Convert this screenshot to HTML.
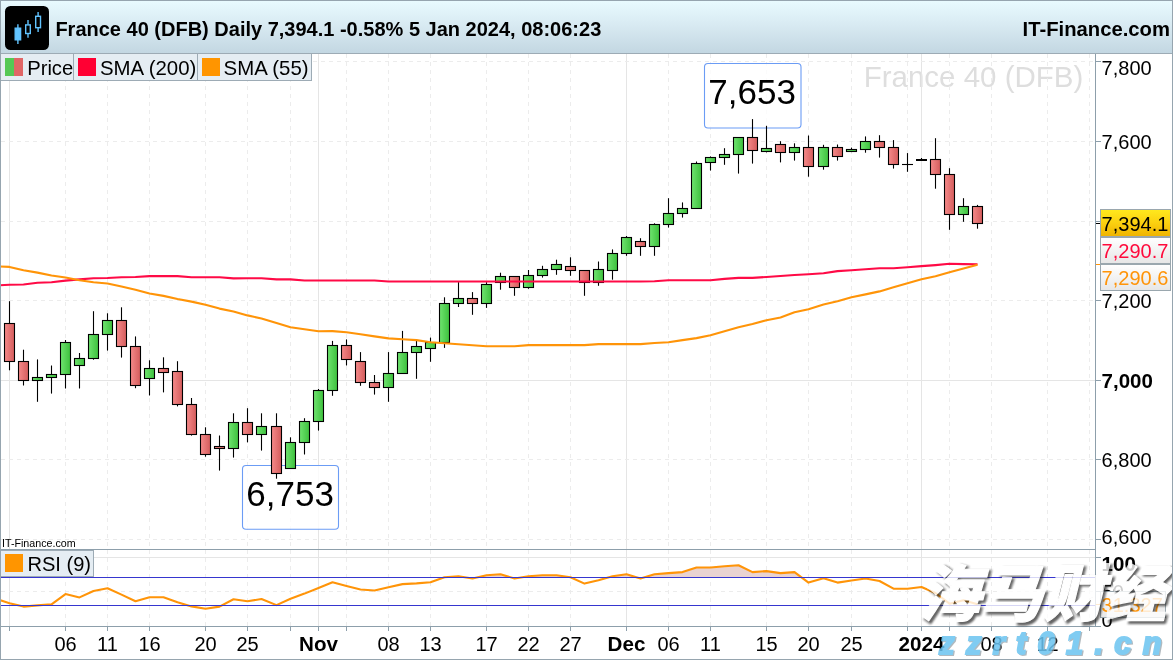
<!DOCTYPE html>
<html lang="en"><head><meta charset="utf-8"><title>France 40 (DFB) Daily</title>
<style>
html,body{margin:0;padding:0;background:#fff;}
body{width:1173px;height:660px;overflow:hidden;}
svg{display:block;font-family:"Liberation Sans","Noto Sans CJK SC",sans-serif;}
text{white-space:pre;}
</style></head><body>
<svg width="1173" height="660" viewBox="0 0 1173 660">
<defs>
<linearGradient id="hdr" x1="0" y1="0" x2="0" y2="1"><stop offset="0" stop-color="#e9fbff"/><stop offset="0.5" stop-color="#d7e9f1"/><stop offset="1" stop-color="#c3d7e2"/></linearGradient>
<linearGradient id="gG" x1="0" y1="0" x2="1" y2="0"><stop offset="0" stop-color="#6fe46f"/><stop offset="1" stop-color="#3dc03d"/></linearGradient>
<linearGradient id="gR" x1="0" y1="0" x2="1" y2="0"><stop offset="0" stop-color="#f58a8a"/><stop offset="1" stop-color="#d45c5c"/></linearGradient>
<linearGradient id="yl" x1="0" y1="0" x2="0" y2="1"><stop offset="0" stop-color="#ffe91e"/><stop offset="0.5" stop-color="#fbd010"/><stop offset="1" stop-color="#efb300"/></linearGradient>
<linearGradient id="wl" x1="0" y1="0" x2="0" y2="1"><stop offset="0" stop-color="#ffffff"/><stop offset="1" stop-color="#e6e6e6"/></linearGradient>
<clipPath id="cpRsi"><rect x="0" y="549.5" width="1095.5" height="28.0"/></clipPath>
<filter id="bl" x="-5%" y="-20%" width="110%" height="140%"><feGaussianBlur stdDeviation="0.9"/></filter>
<clipPath id="cpAll"><rect x="0" y="0" width="1173" height="660"/></clipPath>
</defs>
<rect x="0" y="0" width="1173" height="660" fill="#ffffff"/>

<text x="863.7" y="87.1" font-size="29.5" fill="#dedede">France 40 (DFB)</text>
<g shape-rendering="crispEdges" fill="none" stroke-width="1">
<line x1="65.5" y1="54" x2="65.5" y2="626.4" stroke="#ececec" stroke-dasharray="4 4"/>
<line x1="107.5" y1="54" x2="107.5" y2="626.4" stroke="#ececec" stroke-dasharray="4 4"/>
<line x1="149.5" y1="54" x2="149.5" y2="626.4" stroke="#ececec" stroke-dasharray="4 4"/>
<line x1="205.5" y1="54" x2="205.5" y2="626.4" stroke="#ececec" stroke-dasharray="4 4"/>
<line x1="247.5" y1="54" x2="247.5" y2="626.4" stroke="#ececec" stroke-dasharray="4 4"/>
<line x1="290.5" y1="54" x2="290.5" y2="626.4" stroke="#ececec" stroke-dasharray="4 4"/>
<line x1="346.5" y1="54" x2="346.5" y2="626.4" stroke="#ececec" stroke-dasharray="4 4"/>
<line x1="388.5" y1="54" x2="388.5" y2="626.4" stroke="#ececec" stroke-dasharray="4 4"/>
<line x1="430.5" y1="54" x2="430.5" y2="626.4" stroke="#ececec" stroke-dasharray="4 4"/>
<line x1="486.5" y1="54" x2="486.5" y2="626.4" stroke="#ececec" stroke-dasharray="4 4"/>
<line x1="528.5" y1="54" x2="528.5" y2="626.4" stroke="#ececec" stroke-dasharray="4 4"/>
<line x1="570.5" y1="54" x2="570.5" y2="626.4" stroke="#ececec" stroke-dasharray="4 4"/>
<line x1="668.5" y1="54" x2="668.5" y2="626.4" stroke="#ececec" stroke-dasharray="4 4"/>
<line x1="710.5" y1="54" x2="710.5" y2="626.4" stroke="#ececec" stroke-dasharray="4 4"/>
<line x1="766.5" y1="54" x2="766.5" y2="626.4" stroke="#ececec" stroke-dasharray="4 4"/>
<line x1="808.5" y1="54" x2="808.5" y2="626.4" stroke="#ececec" stroke-dasharray="4 4"/>
<line x1="851.5" y1="54" x2="851.5" y2="626.4" stroke="#ececec" stroke-dasharray="4 4"/>
<line x1="907.5" y1="54" x2="907.5" y2="626.4" stroke="#ececec" stroke-dasharray="4 4"/>
<line x1="949.5" y1="54" x2="949.5" y2="626.4" stroke="#ececec" stroke-dasharray="4 4"/>
<line x1="991.5" y1="54" x2="991.5" y2="626.4" stroke="#ececec" stroke-dasharray="4 4"/>
<line x1="1047.5" y1="54" x2="1047.5" y2="626.4" stroke="#ececec" stroke-dasharray="4 4"/>
<line x1="1089.5" y1="54" x2="1089.5" y2="626.4" stroke="#ececec" stroke-dasharray="4 4"/>
<line x1="9.5" y1="54" x2="9.5" y2="626.4" stroke="#e5e5e5"/>
<line x1="318.5" y1="54" x2="318.5" y2="626.4" stroke="#e5e5e5"/>
<line x1="626.5" y1="54" x2="626.5" y2="626.4" stroke="#e5e5e5"/>
<line x1="921.5" y1="54" x2="921.5" y2="626.4" stroke="#e5e5e5"/>
<line x1="1" y1="61.5" x2="1095.5" y2="61.5" stroke="#ececec" stroke-dasharray="4 4"/>
<line x1="1" y1="141.5" x2="1095.5" y2="141.5" stroke="#ececec" stroke-dasharray="4 4"/>
<line x1="1" y1="221.5" x2="1095.5" y2="221.5" stroke="#ececec" stroke-dasharray="4 4"/>
<line x1="1" y1="300.5" x2="1095.5" y2="300.5" stroke="#ececec" stroke-dasharray="4 4"/>
<line x1="1" y1="380.5" x2="1095.5" y2="380.5" stroke="#e5e5e5"/>
<line x1="1" y1="459.5" x2="1095.5" y2="459.5" stroke="#ececec" stroke-dasharray="4 4"/>
<line x1="1" y1="539.5" x2="1095.5" y2="539.5" stroke="#ececec" stroke-dasharray="4 4"/>
<line x1="1" y1="557.5" x2="1095.5" y2="557.5" stroke="#e5e5e5"/>
<line x1="1" y1="591.5" x2="1095.5" y2="591.5" stroke="#ececec" stroke-dasharray="4 4"/>
</g>
<rect x="704.5" y="63.5" width="96.5" height="64.5" rx="3.5" ry="3.5" fill="#ffffff" fill-opacity="0.8" stroke="#6b9cf5" stroke-width="1.1"/>
<text x="708.3" y="103.6" font-size="35" fill="#000000">7,653</text>
<rect x="242.5" y="465.5" width="96" height="63.7" rx="3.5" ry="3.5" fill="#ffffff" fill-opacity="0.8" stroke="#6b9cf5" stroke-width="1.1"/>
<text x="246.3" y="506" font-size="35" fill="#000000">6,753</text>
<g stroke="#000000" stroke-width="1.1">
<line x1="9.5" y1="301.2" x2="9.5" y2="370.3"/>
<rect x="4.5" y="323.5" width="10" height="38.0" fill="url(#gR)"/>
<line x1="23.5" y1="349.7" x2="23.5" y2="385.5"/>
<rect x="18.5" y="361.5" width="10" height="19.0" fill="url(#gR)"/>
<line x1="37.5" y1="359.4" x2="37.5" y2="401.8"/>
<rect x="32.5" y="377.5" width="10" height="3.0" fill="url(#gG)"/>
<line x1="51.5" y1="365.5" x2="51.5" y2="393.6"/>
<rect x="46.5" y="374.5" width="10" height="3.0" fill="url(#gG)"/>
<line x1="65.5" y1="340.0" x2="65.5" y2="388.5"/>
<rect x="60.5" y="342.5" width="10" height="32.0" fill="url(#gG)"/>
<line x1="79.5" y1="353.0" x2="79.5" y2="388.5"/>
<rect x="74.5" y="358.5" width="10" height="7.0" fill="url(#gG)"/>
<line x1="93.5" y1="311.2" x2="93.5" y2="359.7"/>
<rect x="88.5" y="334.5" width="10" height="24.0" fill="url(#gG)"/>
<line x1="107.5" y1="313.3" x2="107.5" y2="350.6"/>
<rect x="102.5" y="320.5" width="10" height="14.0" fill="url(#gG)"/>
<line x1="121.5" y1="307.3" x2="121.5" y2="357.6"/>
<rect x="116.5" y="320.5" width="10" height="26.0" fill="url(#gR)"/>
<line x1="135.5" y1="336.4" x2="135.5" y2="388.2"/>
<rect x="130.5" y="346.5" width="10" height="39.0" fill="url(#gR)"/>
<line x1="149.5" y1="360.3" x2="149.5" y2="395.5"/>
<rect x="144.5" y="368.5" width="10" height="10.0" fill="url(#gG)"/>
<line x1="163.5" y1="357.3" x2="163.5" y2="392.4"/>
<rect x="158.5" y="368.5" width="10" height="4.0" fill="url(#gR)"/>
<line x1="177.5" y1="361.2" x2="177.5" y2="406.4"/>
<rect x="172.5" y="371.5" width="10" height="33.0" fill="url(#gR)"/>
<line x1="191.5" y1="398.0" x2="191.5" y2="435.6"/>
<rect x="186.5" y="404.5" width="10" height="30.0" fill="url(#gR)"/>
<line x1="205.5" y1="427.3" x2="205.5" y2="456.7"/>
<rect x="200.5" y="434.5" width="10" height="20.0" fill="url(#gR)"/>
<line x1="219.5" y1="435.5" x2="219.5" y2="470.6"/>
<rect x="214.5" y="446.5" width="10" height="2.0" fill="url(#gR)"/>
<line x1="233.5" y1="413.3" x2="233.5" y2="457.6"/>
<rect x="228.5" y="422.5" width="10" height="26.0" fill="url(#gG)"/>
<line x1="247.5" y1="408.2" x2="247.5" y2="442.4"/>
<rect x="242.5" y="422.5" width="10" height="12.0" fill="url(#gR)"/>
<line x1="261.5" y1="413.3" x2="261.5" y2="450.6"/>
<rect x="256.5" y="426.5" width="10" height="8.0" fill="url(#gG)"/>
<line x1="276.5" y1="413.3" x2="276.5" y2="478.7"/>
<rect x="271.5" y="426.5" width="10" height="47.0" fill="url(#gR)"/>
<line x1="290.5" y1="437.3" x2="290.5" y2="468.5"/>
<rect x="285.5" y="442.5" width="10" height="26.0" fill="url(#gG)"/>
<line x1="304.5" y1="418.2" x2="304.5" y2="454.5"/>
<rect x="299.5" y="421.5" width="10" height="21.0" fill="url(#gG)"/>
<line x1="318.5" y1="389.0" x2="318.5" y2="430.6"/>
<rect x="313.5" y="390.5" width="10" height="31.0" fill="url(#gG)"/>
<line x1="332.5" y1="340.9" x2="332.5" y2="395.8"/>
<rect x="327.5" y="345.5" width="10" height="45.0" fill="url(#gG)"/>
<line x1="346.5" y1="339.4" x2="346.5" y2="365.5"/>
<rect x="341.5" y="345.5" width="10" height="14.0" fill="url(#gR)"/>
<line x1="360.5" y1="352.1" x2="360.5" y2="385.8"/>
<rect x="355.5" y="361.5" width="10" height="21.0" fill="url(#gR)"/>
<line x1="374.5" y1="375.0" x2="374.5" y2="394.6"/>
<rect x="369.5" y="382.5" width="10" height="5.0" fill="url(#gR)"/>
<line x1="388.5" y1="352.1" x2="388.5" y2="401.8"/>
<rect x="383.5" y="373.5" width="10" height="14.0" fill="url(#gG)"/>
<line x1="402.5" y1="330.9" x2="402.5" y2="373.5"/>
<rect x="397.5" y="352.5" width="10" height="21.0" fill="url(#gG)"/>
<line x1="416.5" y1="339.1" x2="416.5" y2="378.8"/>
<rect x="411.5" y="346.5" width="10" height="6.0" fill="url(#gG)"/>
<line x1="430.5" y1="337.6" x2="430.5" y2="361.8"/>
<rect x="425.5" y="342.5" width="10" height="6.0" fill="url(#gG)"/>
<line x1="444.5" y1="297.3" x2="444.5" y2="347.9"/>
<rect x="439.5" y="303.5" width="10" height="39.0" fill="url(#gG)"/>
<line x1="458.5" y1="282.1" x2="458.5" y2="307.0"/>
<rect x="453.5" y="298.5" width="10" height="5.0" fill="url(#gG)"/>
<line x1="472.5" y1="292.1" x2="472.5" y2="314.8"/>
<rect x="467.5" y="298.5" width="10" height="5.0" fill="url(#gR)"/>
<line x1="486.5" y1="282.1" x2="486.5" y2="307.9"/>
<rect x="481.5" y="284.5" width="10" height="19.0" fill="url(#gG)"/>
<line x1="500.5" y1="272.7" x2="500.5" y2="289.7"/>
<rect x="495.5" y="276.5" width="10" height="6.0" fill="url(#gG)"/>
<line x1="514.5" y1="276.4" x2="514.5" y2="295.8"/>
<rect x="509.5" y="276.5" width="10" height="11.0" fill="url(#gR)"/>
<line x1="528.5" y1="270.0" x2="528.5" y2="288.8"/>
<rect x="523.5" y="275.5" width="10" height="12.0" fill="url(#gG)"/>
<line x1="542.5" y1="265.8" x2="542.5" y2="277.6"/>
<rect x="537.5" y="269.5" width="10" height="6.0" fill="url(#gG)"/>
<line x1="556.5" y1="259.7" x2="556.5" y2="274.8"/>
<rect x="551.5" y="264.5" width="10" height="5.0" fill="url(#gG)"/>
<line x1="570.5" y1="257.3" x2="570.5" y2="275.8"/>
<rect x="565.5" y="266.5" width="10" height="4.0" fill="url(#gR)"/>
<line x1="584.5" y1="270.5" x2="584.5" y2="295.8"/>
<rect x="579.5" y="270.5" width="10" height="12.0" fill="url(#gR)"/>
<line x1="598.5" y1="261.5" x2="598.5" y2="285.8"/>
<rect x="593.5" y="269.5" width="10" height="13.0" fill="url(#gG)"/>
<line x1="612.5" y1="249.4" x2="612.5" y2="279.7"/>
<rect x="607.5" y="253.5" width="10" height="17.0" fill="url(#gG)"/>
<line x1="626.5" y1="236.0" x2="626.5" y2="255.8"/>
<rect x="621.5" y="237.5" width="10" height="16.0" fill="url(#gG)"/>
<line x1="640.5" y1="238.2" x2="640.5" y2="255.8"/>
<rect x="635.5" y="241.5" width="10" height="5.0" fill="url(#gR)"/>
<line x1="654.5" y1="223.3" x2="654.5" y2="255.8"/>
<rect x="649.5" y="224.5" width="10" height="22.0" fill="url(#gG)"/>
<line x1="668.5" y1="198.2" x2="668.5" y2="227.6"/>
<rect x="663.5" y="213.5" width="10" height="11.0" fill="url(#gG)"/>
<line x1="682.5" y1="202.4" x2="682.5" y2="217.6"/>
<rect x="677.5" y="208.5" width="10" height="5.0" fill="url(#gG)"/>
<line x1="696.5" y1="161.5" x2="696.5" y2="208.5"/>
<rect x="691.5" y="163.5" width="10" height="45.0" fill="url(#gG)"/>
<line x1="710.5" y1="156.4" x2="710.5" y2="170.6"/>
<rect x="705.5" y="157.5" width="10" height="5.0" fill="url(#gG)"/>
<line x1="724.5" y1="148.2" x2="724.5" y2="164.8"/>
<rect x="719.5" y="154.5" width="10" height="3.0" fill="url(#gG)"/>
<line x1="738.5" y1="137.3" x2="738.5" y2="173.6"/>
<rect x="733.5" y="137.5" width="10" height="17.0" fill="url(#gG)"/>
<line x1="752.5" y1="119.1" x2="752.5" y2="163.6"/>
<rect x="747.5" y="137.5" width="10" height="13.0" fill="url(#gR)"/>
<line x1="766.5" y1="125.8" x2="766.5" y2="152.4"/>
<rect x="761.5" y="148.5" width="10" height="3.0" fill="url(#gG)"/>
<line x1="780.5" y1="141.2" x2="780.5" y2="162.4"/>
<rect x="775.5" y="144.5" width="10" height="8.0" fill="url(#gR)"/>
<line x1="794.5" y1="143.3" x2="794.5" y2="160.6"/>
<rect x="789.5" y="147.5" width="10" height="5.0" fill="url(#gG)"/>
<line x1="808.5" y1="135.5" x2="808.5" y2="176.7"/>
<rect x="803.5" y="147.5" width="10" height="19.0" fill="url(#gR)"/>
<line x1="823.5" y1="144.8" x2="823.5" y2="169.7"/>
<rect x="818.5" y="147.5" width="10" height="19.0" fill="url(#gG)"/>
<line x1="837.5" y1="144.5" x2="837.5" y2="160.6"/>
<rect x="832.5" y="147.5" width="10" height="9.0" fill="url(#gR)"/>
<line x1="851.5" y1="147.6" x2="851.5" y2="152.1"/>
<rect x="846.5" y="149.5" width="10" height="2.0" fill="url(#gG)"/>
<line x1="865.5" y1="136.4" x2="865.5" y2="152.7"/>
<rect x="860.5" y="141.5" width="10" height="8.0" fill="url(#gG)"/>
<line x1="879.5" y1="135.2" x2="879.5" y2="157.6"/>
<rect x="874.5" y="141.5" width="10" height="6.0" fill="url(#gR)"/>
<line x1="893.5" y1="140.1" x2="893.5" y2="168.6"/>
<rect x="888.5" y="147.5" width="10" height="17.0" fill="url(#gR)"/>
<line x1="907.5" y1="153.1" x2="907.5" y2="171.8"/>
<line x1="902.0" y1="164.5" x2="913.0" y2="164.5"/>
<line x1="921.5" y1="158.0" x2="921.5" y2="159.5"/>
<line x1="916.0" y1="160.0" x2="927.0" y2="160.0" stroke-width="2"/>
<line x1="935.5" y1="138.2" x2="935.5" y2="188.7"/>
<rect x="930.5" y="159.5" width="10" height="15.0" fill="url(#gR)"/>
<line x1="949.5" y1="168.2" x2="949.5" y2="229.8"/>
<rect x="944.5" y="174.5" width="10" height="40.0" fill="url(#gR)"/>
<line x1="963.5" y1="198.2" x2="963.5" y2="221.8"/>
<rect x="958.5" y="206.5" width="10" height="8.0" fill="url(#gG)"/>
<line x1="977.5" y1="204.9" x2="977.5" y2="228.7"/>
<rect x="972.5" y="206.5" width="10" height="17.0" fill="url(#gR)"/>
</g>
<polyline points="-2,285.4 9.5,284.8 23.5,284.5 37.5,282.8 51.5,282.3 65.5,280.6 79.5,279.4 93.5,278.2 107.5,278.0 121.5,277.2 135.5,277.0 149.5,276.1 163.5,276.1 177.5,276.1 191.5,277.2 205.5,277.2 219.5,277.2 233.5,278.4 247.5,278.2 261.5,278.2 276.5,279.4 290.5,279.4 304.5,280.5 318.5,280.5 332.5,280.5 346.5,280.5 360.5,280.5 374.5,280.5 388.5,281.5 402.5,281.5 416.5,281.5 430.5,281.5 444.5,281.5 458.5,281.5 472.5,281.5 486.5,281.5 500.5,281.5 514.5,281.5 528.5,281.5 542.5,281.5 556.5,281.5 570.5,281.5 584.5,281.5 598.5,281.5 612.5,281.5 626.5,281.5 640.5,281.5 654.5,281.3 668.5,280.3 682.5,280.3 696.5,280.3 710.5,280.3 724.5,278.9 738.5,277.9 752.5,277.9 766.5,277.0 780.5,276.0 794.5,275.0 808.5,274.2 823.5,273.3 837.5,271.1 851.5,270.2 865.5,269.2 879.5,268.2 893.5,268.2 907.5,267.2 921.5,266.1 935.5,265.1 949.5,263.8 963.5,264.1 977.5,264.3" fill="none" stroke="#ff0a46" stroke-width="2.1" stroke-linejoin="round"/>
<polyline points="-2,266.5 9.5,266.9 23.5,270.3 37.5,272.6 51.5,275.5 65.5,277.5 79.5,280.2 93.5,282.3 107.5,283.5 121.5,286.5 135.5,289.8 149.5,293.5 163.5,295.9 177.5,299.0 191.5,301.6 205.5,304.7 219.5,308.6 233.5,311.5 247.5,315.4 261.5,318.5 276.5,323.1 290.5,327.3 304.5,329.2 318.5,331.3 332.5,331.1 346.5,332.3 360.5,334.3 374.5,336.4 388.5,338.4 402.5,339.3 416.5,340.1 430.5,342.2 444.5,343.2 458.5,344.2 472.5,345.3 486.5,346.3 500.5,346.3 514.5,346.3 528.5,345.1 542.5,345.1 556.5,345.1 570.5,345.1 584.5,345.1 598.5,344.1 612.5,344.1 626.5,344.1 640.5,344.1 654.5,343.0 668.5,342.2 682.5,340.1 696.5,338.1 710.5,335.2 724.5,331.3 738.5,327.3 752.5,324.1 766.5,320.2 780.5,317.5 794.5,312.3 808.5,309.3 823.5,304.5 837.5,301.3 851.5,297.2 865.5,294.4 879.5,291.4 893.5,287.3 907.5,283.2 921.5,279.2 935.5,276.2 949.5,272.3 963.5,268.6 977.5,264.7" fill="none" stroke="#ff9408" stroke-width="2.1" stroke-linejoin="round"/>
<polygon points="-2,599.5 9.5,603.3 23.5,606.6 37.5,605.4 51.5,604.3 65.5,594.1 79.5,597.4 93.5,591.0 107.5,588.2 121.5,594.6 135.5,601.3 149.5,597.2 163.5,597.2 177.5,602.3 191.5,606.4 205.5,608.7 219.5,606.6 233.5,599.2 247.5,601.3 261.5,599.0 276.5,605.1 290.5,598.7 304.5,593.6 318.5,588.0 332.5,582.3 346.5,585.9 360.5,589.5 374.5,590.5 388.5,587.2 402.5,584.1 416.5,583.4 430.5,582.3 444.5,577.2 458.5,576.2 472.5,578.5 486.5,575.2 500.5,574.2 514.5,578.5 528.5,576.2 542.5,575.2 556.5,575.2 570.5,577.2 584.5,583.6 598.5,580.3 612.5,576.2 626.5,574.2 640.5,578.5 654.5,574.2 668.5,573.1 682.5,572.1 696.5,567.5 710.5,567.5 724.5,566.2 738.5,565.2 752.5,572.1 766.5,571.1 780.5,573.1 794.5,572.1 808.5,582.6 823.5,578.2 837.5,582.6 851.5,580.5 865.5,578.5 879.5,581.0 893.5,588.7 907.5,588.7 921.5,587.0 935.5,593.0 949.5,603.7 963.5,600.3 977.5,604.2 977.5,577.5 -2,577.5" fill="#e9d3d1" clip-path="url(#cpRsi)"/>
<polyline points="-2,599.5 9.5,603.3 23.5,606.6 37.5,605.4 51.5,604.3 65.5,594.1 79.5,597.4 93.5,591.0 107.5,588.2 121.5,594.6 135.5,601.3 149.5,597.2 163.5,597.2 177.5,602.3 191.5,606.4 205.5,608.7 219.5,606.6 233.5,599.2 247.5,601.3 261.5,599.0 276.5,605.1 290.5,598.7 304.5,593.6 318.5,588.0 332.5,582.3 346.5,585.9 360.5,589.5 374.5,590.5 388.5,587.2 402.5,584.1 416.5,583.4 430.5,582.3 444.5,577.2 458.5,576.2 472.5,578.5 486.5,575.2 500.5,574.2 514.5,578.5 528.5,576.2 542.5,575.2 556.5,575.2 570.5,577.2 584.5,583.6 598.5,580.3 612.5,576.2 626.5,574.2 640.5,578.5 654.5,574.2 668.5,573.1 682.5,572.1 696.5,567.5 710.5,567.5 724.5,566.2 738.5,565.2 752.5,572.1 766.5,571.1 780.5,573.1 794.5,572.1 808.5,582.6 823.5,578.2 837.5,582.6 851.5,580.5 865.5,578.5 879.5,581.0 893.5,588.7 907.5,588.7 921.5,587.0 935.5,593.0 949.5,603.7 963.5,600.3 977.5,604.2" fill="none" stroke="#ff9408" stroke-width="2.1" stroke-linejoin="round"/>
<line x1="1" y1="577.5" x2="1095.5" y2="577.5" stroke="#3636cf" stroke-width="1" shape-rendering="crispEdges"/>
<line x1="1" y1="605.5" x2="1095.5" y2="605.5" stroke="#3636cf" stroke-width="1" shape-rendering="crispEdges"/>
<g shape-rendering="crispEdges" stroke="#8d9fab" fill="none">
<line x1="0" y1="549.5" x2="1095.5" y2="549.5" stroke-width="1"/>
<line x1="0" y1="626.5" x2="1096.5" y2="626.5" stroke-width="1"/>
<line x1="1095.5" y1="54" x2="1095.5" y2="627" stroke-width="1"/>
</g>
<g shape-rendering="crispEdges" stroke="#8d9fab" stroke-width="1">
<line x1="1095.5" y1="61.5" x2="1100.5" y2="61.5"/>
<line x1="1095.5" y1="141.5" x2="1100.5" y2="141.5"/>
<line x1="1095.5" y1="221.5" x2="1100.5" y2="221.5"/>
<line x1="1095.5" y1="300.5" x2="1100.5" y2="300.5"/>
<line x1="1095.5" y1="380.5" x2="1100.5" y2="380.5"/>
<line x1="1095.5" y1="459.5" x2="1100.5" y2="459.5"/>
<line x1="1095.5" y1="539.5" x2="1100.5" y2="539.5"/>
<line x1="1095.5" y1="557.5" x2="1100.5" y2="557.5"/>
<line x1="1095.5" y1="591.5" x2="1100.5" y2="591.5"/>
<line x1="1095.5" y1="626.5" x2="1100.5" y2="626.5"/>
</g>
<text x="1101.6" y="74.7" font-size="20" fill="#000">7,800</text>
<text x="1101.6" y="148.9" font-size="20" fill="#000">7,600</text>
<text x="1101.6" y="307.9" font-size="20" fill="#000">7,200</text>
<text x="1101.6" y="387.6" font-weight="bold" font-size="20.5" fill="#000">7,000</text>
<text x="1101.6" y="466.9" font-size="20" fill="#000">6,800</text>
<text x="1101.6" y="544" font-size="20" fill="#000">6,600</text>
<text x="1101.6" y="571.3" font-size="20.5" font-weight="bold" fill="#000">100</text>
<text x="1101.6" y="598.8" font-size="20" fill="#000">50</text>
<text x="1101.6" y="626.5" font-size="20" fill="#000">0</text>
<line x1="1095.5" y1="223.5" x2="1100.5" y2="223.5" stroke="#000" stroke-width="1" shape-rendering="crispEdges"/>
<line x1="1095.5" y1="264.5" x2="1100.5" y2="264.5" stroke="#ff9408" stroke-width="1" shape-rendering="crispEdges"/>
<g shape-rendering="crispEdges">
<rect x="1100.5" y="209.5" width="70" height="27" fill="url(#yl)" stroke="#9aa7ae" stroke-width="1"/>
<rect x="1100.5" y="237.5" width="70" height="26" fill="url(#wl)" stroke="#9aa7ae" stroke-width="1"/>
<rect x="1100.5" y="264.5" width="70" height="26" fill="url(#wl)" stroke="#9aa7ae" stroke-width="1"/>
</g>
<text x="1101.6" y="230.9" font-size="20" fill="#000">7,394.1</text>
<text x="1101.6" y="258" font-size="20" fill="#ff0a3c">7,290.7</text>
<text x="1101.6" y="285" font-size="20" fill="#ff9408">7,290.6</text>
<line x1="1095.5" y1="604.5" x2="1100.5" y2="604.5" stroke="#ff9408" stroke-width="1" shape-rendering="crispEdges"/>
<rect x="1100.5" y="591.5" width="65" height="26" fill="url(#wl)" stroke="#9aa7ae" stroke-width="1" shape-rendering="crispEdges"/>
<text x="1101.6" y="612" font-size="20" fill="#ff9408">31.327</text>
<g shape-rendering="crispEdges" stroke="#8d9fab" stroke-width="1">
<line x1="65.5" y1="626" x2="65.5" y2="631"/>
<line x1="107.5" y1="626" x2="107.5" y2="631"/>
<line x1="149.5" y1="626" x2="149.5" y2="631"/>
<line x1="205.5" y1="626" x2="205.5" y2="631"/>
<line x1="247.5" y1="626" x2="247.5" y2="631"/>
<line x1="290.5" y1="626" x2="290.5" y2="631"/>
<line x1="346.5" y1="626" x2="346.5" y2="631"/>
<line x1="388.5" y1="626" x2="388.5" y2="631"/>
<line x1="430.5" y1="626" x2="430.5" y2="631"/>
<line x1="486.5" y1="626" x2="486.5" y2="631"/>
<line x1="528.5" y1="626" x2="528.5" y2="631"/>
<line x1="570.5" y1="626" x2="570.5" y2="631"/>
<line x1="668.5" y1="626" x2="668.5" y2="631"/>
<line x1="710.5" y1="626" x2="710.5" y2="631"/>
<line x1="766.5" y1="626" x2="766.5" y2="631"/>
<line x1="808.5" y1="626" x2="808.5" y2="631"/>
<line x1="851.5" y1="626" x2="851.5" y2="631"/>
<line x1="907.5" y1="626" x2="907.5" y2="631"/>
<line x1="949.5" y1="626" x2="949.5" y2="631"/>
<line x1="991.5" y1="626" x2="991.5" y2="631"/>
<line x1="1047.5" y1="626" x2="1047.5" y2="631"/>
<line x1="1089.5" y1="626" x2="1089.5" y2="631"/>
<line x1="9.5" y1="626" x2="9.5" y2="631"/>
<line x1="318.5" y1="626" x2="318.5" y2="631"/>
<line x1="626.5" y1="626" x2="626.5" y2="631"/>
<line x1="921.5" y1="626" x2="921.5" y2="631"/>
</g>
<g font-size="20" text-anchor="middle" fill="#000">
<text x="65.5" y="650.6">06</text>
<text x="107.5" y="650.6">11</text>
<text x="149.5" y="650.6">16</text>
<text x="205.5" y="650.6">20</text>
<text x="247.5" y="650.6">25</text>
<text x="318.5" y="650.6" font-weight="bold" font-size="20.6">Nov</text>
<text x="388.5" y="650.6">08</text>
<text x="430.5" y="650.6">13</text>
<text x="486.5" y="650.6">17</text>
<text x="528.5" y="650.6">22</text>
<text x="570.5" y="650.6">27</text>
<text x="626.5" y="650.6" font-weight="bold" font-size="20.6">Dec</text>
<text x="668.5" y="650.6">06</text>
<text x="710.5" y="650.6">11</text>
<text x="766.5" y="650.6">15</text>
<text x="808.5" y="650.6">20</text>
<text x="851.5" y="650.6">25</text>
<text x="921.5" y="650.6" font-weight="bold" font-size="20.6">2024</text>
<text x="991.5" y="650.6">08</text>
<text x="1047.5" y="650.6">12</text>
</g>
<text x="2" y="547.3" font-size="10.7" fill="#000">IT-Finance.com</text>
<rect x="0" y="0" width="1173" height="53" fill="url(#hdr)"/>
<rect x="5" y="6" width="44" height="44" rx="5.5" ry="5.5" fill="#000"/>
<g stroke="#62c4ff" stroke-width="1.4" fill="none">
<line x1="17.9" y1="24.3" x2="17.9" y2="44"/><rect x="15.2" y="28.2" width="5.4" height="11.6" fill="#62c4ff"/>
<line x1="28" y1="20" x2="28" y2="24.6"/><line x1="28" y1="33.8" x2="28" y2="37.8"/><rect x="25.7" y="24.9" width="4.6" height="8.6"/>
<line x1="38.1" y1="12" x2="38.1" y2="16"/><line x1="38.1" y1="28" x2="38.1" y2="32"/><rect x="35.7" y="16.3" width="4.8" height="11.4"/>
</g>
<text x="55.4" y="35.7" font-size="20" font-weight="bold" fill="#000">France 40 (DFB) Daily 7,394.1 -0.58% 5 Jan 2024, 08:06:23</text>
<text x="1170" y="35.7" font-size="20.25" font-weight="bold" fill="#000" text-anchor="end">IT-Finance.com</text>
<g shape-rendering="crispEdges">
<rect x="0.5" y="53.5" width="310.5" height="27" fill="#e5edf3" stroke="#9dabb5" stroke-width="1"/>
<line x1="73.5" y1="53.5" x2="73.5" y2="80.5" stroke="#9dabb5"/>
<line x1="197.5" y1="53.5" x2="197.5" y2="80.5" stroke="#9dabb5"/>
<line x1="0" y1="53.5" x2="1173" y2="53.5" stroke="#9dabb5"/>
<rect x="5" y="58" width="9" height="18" fill="#55c855"/><rect x="14" y="58" width="9" height="18" fill="#e06666"/>
<rect x="78" y="58" width="18" height="18" fill="#ff0033"/>
<rect x="202" y="58" width="18" height="18" fill="#ff9500"/>
</g>
<g font-size="20.4" fill="#000"><text x="27.2" y="74.8" font-size="20.2">Price</text><text x="100" y="74.8">SMA (200)</text><text x="223.6" y="74.8">SMA (55)</text></g>
<g shape-rendering="crispEdges">
<rect x="0.5" y="550.5" width="93" height="26" fill="#e5edf3" stroke="#9dabb5" stroke-width="1"/>
<rect x="5" y="554" width="18" height="18" fill="#ff9500"/>
</g>
<text x="27.4" y="570.8" font-size="20.1" fill="#000">RSI (9)</text>
<g opacity="0.8" font-weight="900" font-family="'Liberation Sans','Noto Sans CJK SC',sans-serif" font-size="61.5" letter-spacing="0.5" stroke-linejoin="round">
<text x="0" y="0" fill="#1a1a1a" stroke="#1a1a1a" stroke-width="1.2" opacity="0.85" filter="url(#bl)" transform="translate(921,618.2) skewX(-14)">海马财经</text>
<text x="0" y="0" fill="#fff" stroke="#fff" stroke-width="1.2" transform="translate(918.7,615.9) skewX(-14)">海马财经</text>
</g>
<g opacity="0.86" font-size="30.5" font-style="italic" font-weight="bold" letter-spacing="11.45" stroke-linejoin="miter" stroke-width="2">
<text x="940.5" y="654.8" fill="#8d9aa3" stroke="#8d9aa3" opacity="0.8">zzrt01.cn</text>
<text x="939.3" y="653.5" fill="#6cc4f1" stroke="#6cc4f1">zzrt01.cn</text>
</g>
<g shape-rendering="crispEdges" fill="none" stroke="#96a5af"><rect x="0.5" y="0.5" width="1172" height="659"/></g>
</svg></body></html>
